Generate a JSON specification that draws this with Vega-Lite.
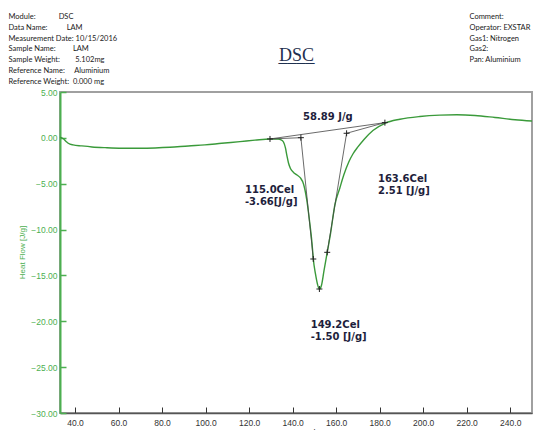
{
  "$schema": "https://vega.github.io/schema/vega-lite/v6.json",
  "width": 472,
  "height": 321,
  "autosize": {"type": "none"},
  "padding": {"left": 60, "top": 92, "right": 1, "bottom": 17},
  "background": "white",
  "config": {
    "view": {"stroke": "#a0a0a0", "strokeWidth": 2},
    "axis": {"grid": false}
  },
  "datasets": {
    "curve": [
      {"T": 33.1, "V": 0.07}, {"T": 34.5, "V": -0.07}, {"T": 35.9, "V": -0.39}, {"T": 36.9, "V": -0.59},
      {"T": 39.1, "V": -0.77}, {"T": 43.1, "V": -0.88}, {"T": 47.8, "V": -0.99}, {"T": 53.8, "V": -1.07},
      {"T": 61.5, "V": -1.13}, {"T": 69.9, "V": -1.13}, {"T": 76.8, "V": -1.1}, {"T": 83.6, "V": -1.03},
      {"T": 92.1, "V": -0.88}, {"T": 99.7, "V": -0.77}, {"T": 107.4, "V": -0.59}, {"T": 115.8, "V": -0.41},
      {"T": 122.7, "V": -0.25}, {"T": 129.6, "V": -0.12}, {"T": 133.3, "V": -0.13}, {"T": 134.7, "V": -0.21},
      {"T": 135.8, "V": -0.45}, {"T": 136.7, "V": -1.1}, {"T": 137.4, "V": -1.97}, {"T": 138.1, "V": -2.74},
      {"T": 139.0, "V": -3.34}, {"T": 140.4, "V": -3.77}, {"T": 142.0, "V": -4.05}, {"T": 143.6, "V": -4.37},
      {"T": 145.0, "V": -5.03}, {"T": 146.5, "V": -6.77}, {"T": 147.7, "V": -8.95}, {"T": 148.9, "V": -11.46},
      {"T": 149.5, "V": -13.21}, {"T": 150.5, "V": -14.84}, {"T": 151.4, "V": -15.93}, {"T": 152.3, "V": -16.48},
      {"T": 153.3, "V": -16.04}, {"T": 154.4, "V": -14.51}, {"T": 155.9, "V": -12.48}, {"T": 157.4, "V": -10.48},
      {"T": 159.4, "V": -7.32}, {"T": 161.7, "V": -5.46}, {"T": 163.5, "V": -4.05}, {"T": 165.8, "V": -2.63},
      {"T": 167.7, "V": -1.76}, {"T": 170.0, "V": -0.99}, {"T": 172.8, "V": -0.17}, {"T": 176.9, "V": 0.81},
      {"T": 182.4, "V": 1.59}, {"T": 189.3, "V": 2.03}, {"T": 198.5, "V": 2.33}, {"T": 207.7, "V": 2.48},
      {"T": 215.5, "V": 2.52}, {"T": 223.8, "V": 2.44}, {"T": 233.0, "V": 2.22}, {"T": 242.2, "V": 1.98},
      {"T": 250.0, "V": 1.84}
    ],
    "segs": [
      {"T1": 129.6, "V1": -0.12, "T2": 182.4, "V2": 1.66},
      {"T1": 129.6, "V1": -0.12, "T2": 143.8, "V2": 0.02},
      {"T1": 143.8, "V1": 0.02, "T2": 149.5, "V2": -13.21},
      {"T1": 155.9, "V1": -12.48, "T2": 164.8, "V2": 0.5},
      {"T1": 164.8, "V1": 0.5, "T2": 182.4, "V2": 1.66}
    ],
    "marks": [
      {"T": 129.6, "V": -0.12}, {"T": 143.8, "V": 0.02}, {"T": 149.5, "V": -13.21},
      {"T": 152.3, "V": -16.48}, {"T": 155.9, "V": -12.48}, {"T": 164.8, "V": 0.5}, {"T": 182.4, "V": 1.66}
    ],
    "notes": [
      {"label": "58.89 J/g", "T": 144.8, "V": 1.95},
      {"label": "115.0Cel\n-3.66[J/g]", "T": 118.1, "V": -6.0},
      {"label": "163.6Cel\n2.51 [J/g]", "T": 179.2, "V": -4.78},
      {"label": "149.2Cel\n-1.50 [J/g]", "T": 148.3, "V": -20.68}
    ]
  },
  "resolve": {"axis": {"x": "independent", "y": "independent"}},
  "layer": [
    {
      "data": {"name": "curve"},
      "mark": {"type": "line", "color": "#3a9a3a", "strokeWidth": 1.4, "interpolate": "monotone"},
      "encoding": {
        "x": {
          "field": "T", "type": "quantitative",
          "scale": {"domain": [33.1, 250], "nice": false, "zero": false},
          "axis": {
            "orient": "bottom",
            "values": [40, 60, 80, 100, 120, 140, 160, 180, 200, 220, 240],
            "format": ".1f",
            "title": "Temp Cel",
            "tickSize": -6, "labelPadding": 11, "tickColor": "#333", "tickWidth": 1,
            "domainColor": "#555", "domainWidth": 1.5,
            "labelFont": "Liberation Sans", "labelFontSize": 8.5, "labelColor": "#333",
            "titleFont": "Liberation Sans", "titleFontSize": 9, "titleFontWeight": "normal", "titleColor": "#333",
            "titleX": 236, "titleY": 15, "titleBaseline": "top", "titleAlign": "center"
          }
        },
        "y": {
          "field": "V", "type": "quantitative",
          "scale": {"domain": [-30, 5], "nice": false, "zero": false},
          "axis": {
            "orient": "left",
            "values": [-30, -25, -20, -15, -10, -5, 0, 5],
            "format": ".2f",
            "title": "Heat Flow [J/g]",
            "tickSize": -6, "labelPadding": 9, "tickColor": "#4caf50", "tickWidth": 1.5,
            "domainColor": "#4caf50", "domainWidth": 2,
            "labelFont": "Liberation Sans", "labelFontSize": 8.5, "labelColor": "#4caf50",
            "titleFont": "Liberation Sans", "titleFontSize": 8, "titleFontWeight": "normal", "titleColor": "#4caf50",
            "titleX": -38, "titleY": 160, "titleAngle": -90, "titleAlign": "center", "titleBaseline": "middle"
          }
        }
      }
    },
    {
      "data": {"name": "segs"},
      "mark": {"type": "rule", "color": "#444", "strokeWidth": 0.8},
      "encoding": {
        "x": {
          "field": "T1", "type": "quantitative",
          "axis": {
            "orient": "top", "labels": false, "ticks": false, "domain": false,
            "title": [
              "Module:\u00a0\u00a0\u00a0\u00a0\u00a0\u00a0\u00a0\u00a0\u00a0\u00a0\u00a0\u00a0DSC",
              "Data Name:\u00a0\u00a0\u00a0\u00a0\u00a0\u00a0\u00a0\u00a0\u00a0\u00a0LAM",
              "Measurement Date:\u00a010/15/2016",
              "Sample Name:\u00a0\u00a0\u00a0\u00a0\u00a0\u00a0\u00a0\u00a0\u00a0LAM",
              "Sample Weight:\u00a0\u00a0\u00a0\u00a0\u00a0\u00a0\u00a0\u00a05.102mg",
              "Reference Name:\u00a0\u00a0\u00a0\u00a0\u00a0Aluminium",
              "Reference Weight:\u00a0\u00a00.000 mg"
            ],
            "titleX": -52, "titleY": -79.5, "titleAlign": "left", "titleBaseline": "top", "titleAngle": 0,
            "titleFont": "Lato", "titleFontSize": 7.5, "titleFontWeight": "normal", "titleColor": "#1a1a1a",
            "titleLineHeight": 10.8
          }
        },
        "x2": {"field": "T2"},
        "y": {"field": "V1", "type": "quantitative", "axis": null},
        "y2": {"field": "V2"}
      }
    },
    {
      "data": {"name": "marks"},
      "mark": {"type": "point", "shape": "M-1,0L1,0M0,-1L0,1", "filled": false, "size": 36, "color": "#222", "strokeWidth": 1, "opacity": 1},
      "encoding": {
        "x": {
          "field": "T", "type": "quantitative",
          "axis": {
            "orient": "top", "labels": false, "ticks": false, "domain": false,
            "title": ["DSC", "____"],
            "titleX": 236, "titleY": -31.3, "titleAlign": "center", "titleBaseline": "alphabetic", "titleAngle": 0,
            "titleFont": "Liberation Serif", "titleFontSize": 18, "titleFontWeight": "normal", "titleColor": "#1f3050",
            "titleLineHeight": 0.5
          }
        },
        "y": {"field": "V", "type": "quantitative", "axis": null}
      }
    },
    {
      "data": {"name": "notes"},
      "mark": {"type": "text", "align": "left", "baseline": "alphabetic", "font": "DejaVu Sans", "fontWeight": "bold", "fontSize": 10, "lineBreak": "\n", "lineHeight": 12, "color": "#1e1e3c"},
      "encoding": {
        "x": {"field": "T", "type": "quantitative", "axis": null},
        "y": {
          "field": "V", "type": "quantitative",
          "axis": {
            "orient": "right", "labels": false, "ticks": false, "domain": false,
            "title": ["Comment:", "Operator: EXSTAR", "Gas1: Nitrogen", "Gas2:", "Pan: Aluminium"],
            "titleX": -63, "titleY": -79.5, "titleAlign": "left", "titleBaseline": "top", "titleAngle": 0,
            "titleFont": "Lato", "titleFontSize": 7.5, "titleFontWeight": "normal", "titleColor": "#1a1a1a",
            "titleLineHeight": 10.8
          }
        },
        "text": {"field": "label"}
      }
    }
  ]
}
